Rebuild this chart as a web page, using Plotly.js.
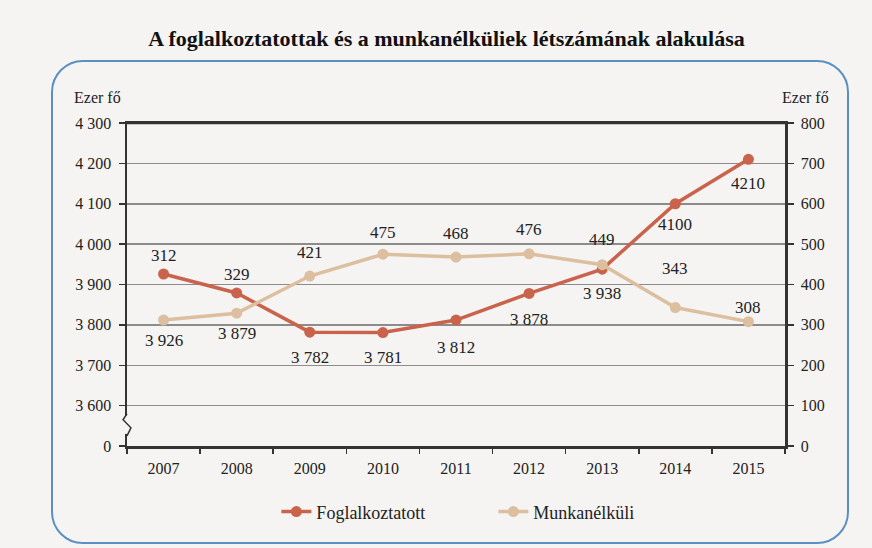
<!DOCTYPE html>
<html>
<head>
<meta charset="utf-8">
<script src="https://cdn.plot.ly/plotly-3.0.1.min.js"></script>
<style>
  html, body { margin:0; padding:0; background:#f5f4f2; }
  #wrap { position:relative; width:872px; height:548px; background:#f5f4f2; overflow:hidden; }
  #frame { position:absolute; left:51px; top:60px; width:798px; height:484px; border:2px solid #5a8fc3; border-radius:32px; box-sizing:border-box; }
  #chart { position:absolute; left:0; top:0; width:872px; height:548px; }
</style>
</head>
<body>
<div id="wrap">
  <div id="frame"></div>
  <div id="chart"></div>
</div>
<script>
// ---- data ----
const years = ['2007','2008','2009','2010','2011','2012','2013','2014','2015'];
const employed = [3926, 3879, 3782, 3781, 3812, 3878, 3938, 4100, 4210];
const unemployed = [312, 329, 421, 475, 468, 476, 449, 343, 308];
const employedLabels = ['3 926','3 879','3 782','3 781','3 812','3 878','3 938','4100','4210'];
const unemployedLabels = ['312','329','421','475','468','476','449','343','308'];
const leftTickVals = [3500, 3600, 3700, 3800, 3900, 4000, 4100, 4200, 4300];
const leftTickText = ['0','3 600','3 700','3 800','3 900','4 000','4 100','4 200','4 300'];
const rightTickVals = [0,100,200,300,400,500,600,700,800];
const seriesNames = ['Foglalkoztatott','Munkanélküli'];

// ---- styles ----
const red = '#c9634c';
const tan = '#dcbf9f';
const serif = 'Liberation Serif';
// label placement (pixel offsets; + is up). OnOther = label sits next to the other series' marker
const empShift = [-20, -20, -25, -25, -27, -26, -24, -21, -24];
const empOnOther = [true, true, false, false, false, false, false, false, false];
const unShift = [19, 18, 24, 22, 24, 24, 25, 39, 14];
const unOnOther = [true, true, false, false, false, false, false, false, false];

const traces = [
  {x: years, y: employed, name: seriesNames[0], type:'scatter', mode:'lines+markers',
   line:{color:red, width:3.5}, marker:{color:red, size:11}, yaxis:'y'},
  {x: years, y: unemployed, name: seriesNames[1], type:'scatter', mode:'lines+markers',
   line:{color:tan, width:3.5}, marker:{color:tan, size:11}, yaxis:'y2'}
];

const annotations = [];
years.forEach(function(yr, i) {
  annotations.push({
    x: i, xref:'x',
    y: empOnOther[i] ? unemployed[i] : employed[i],
    yref: empOnOther[i] ? 'y2' : 'y',
    text: employedLabels[i], showarrow:false, yshift: empShift[i],
    font:{family:serif, size:17, color:'#222'}
  });
  annotations.push({
    x: i, xref:'x',
    y: unOnOther[i] ? employed[i] : unemployed[i],
    yref: unOnOther[i] ? 'y' : 'y2',
    text: unemployedLabels[i], showarrow:false, yshift: unShift[i],
    font:{family:serif, size:17, color:'#222'}
  });
});
annotations.push({text:'Ezer fő', xref:'paper', yref:'paper', x:-0.083, y:1.045, xanchor:'left', yanchor:'bottom', showarrow:false, font:{family:serif, size:16, color:'#222'}});
annotations.push({text:'Ezer fő', xref:'paper', yref:'paper', x:1.07, y:1.045, xanchor:'right', yanchor:'bottom', showarrow:false, font:{family:serif, size:16, color:'#222'}});

const layout = {
  width:872, height:548,
  paper_bgcolor:'rgba(0,0,0,0)', plot_bgcolor:'rgba(0,0,0,0)',
  margin:{l:127, r:87, t:123, b:102},
  title:{text:'<b>A foglalkoztatottak és a munkanélküliek létszámának alakulása</b>',
         font:{family:serif, size:22, color:'#111'}, x:0.512, xanchor:'center', y:0.93, yanchor:'middle'},
  showlegend:true,
  legend:{orientation:'h', x:0.227, xanchor:'left', y:-0.204, yanchor:'middle', entrywidth:172,
          font:{family:serif, size:18, color:'#222'}, bgcolor:'rgba(0,0,0,0)'},
  xaxis:{type:'category', range:[-0.5, 8.5], tickson:'boundaries', ticks:'outside', ticklen:5, tickwidth:1.5, tickcolor:'#333',
         showline:true, linecolor:'#333', linewidth:2.5, mirror:true, showgrid:false, zeroline:false,
         tickfont:{family:serif, size:16, color:'#222'}, ticklabelstandoff:6, fixedrange:true},
  yaxis:{range:[3500, 4300], tickvals:leftTickVals, ticktext:leftTickText, ticks:'outside', ticklen:6, tickwidth:1.5, tickcolor:'#333',
         showline:true, linecolor:'#333', linewidth:2.5, showgrid:true, gridcolor:'#8c8c8c', gridwidth:1.5, zeroline:false,
         tickfont:{family:serif, size:16, color:'#222'}, ticklabelstandoff:4},
  yaxis2:{range:[0,800], tickvals:rightTickVals, overlaying:'y', side:'right', ticks:'outside', ticklen:6, tickwidth:1.5, tickcolor:'#333',
          showline:true, linecolor:'#333', linewidth:2.5, showgrid:false, zeroline:false,
          tickfont:{family:serif, size:16, color:'#222'}, ticklabelstandoff:4},
  annotations: annotations,
  shapes:[
    {type:'line', xref:'paper', yref:'paper', x0:0, x1:1, y0:1, y1:1, line:{color:'#333', width:2.5}},
    {type:'rect', xref:'paper', yref:'y', x0:-0.006, x1:0.006, y0:3530, y1:3575, fillcolor:'#f5f4f2', line:{width:0}},
    {type:'path', xref:'paper', yref:'y', path:'M 0,3580 L -0.006,3565 L 0.006,3545 L 0,3525', line:{color:'#333', width:1.5}}
  ]
};

Plotly.newPlot('chart', traces, layout, {displayModeBar:false, staticPlot:true});
</script>
</body>
</html>
